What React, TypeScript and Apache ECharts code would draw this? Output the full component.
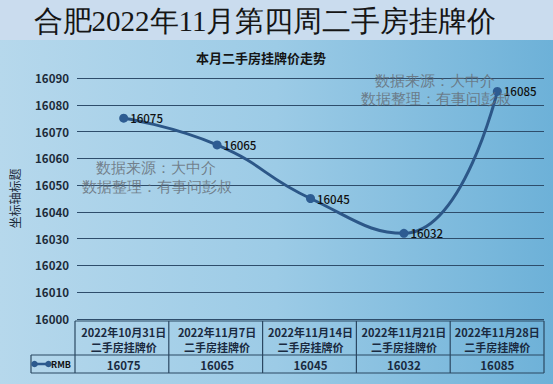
import React, { useEffect, useRef } from "react";
import * as echarts from "echarts";

const mainTitle = "合肥2022年11月第四周二手房挂牌价";
const chartTitle = "本月二手房挂牌价走势";
const categories = ["2022年10月31日", "2022年11月7日", "2022年11月14日", "2022年11月21日", "2022年11月28日"];
const rowLabel = "二手房挂牌价";
const seriesName = "RMB";
const values = [16075, 16065, 16045, 16032, 16085];
const yMin = 16000;
const yMax = 16090;
const yStep = 10;
const yAxisTitle = "坐标轴标题";
const watermark1 = "数据来源：大中介";
const watermark2 = "数据整理：有事问彭叔";

const SANS = "Noto Sans CJK SC";
const SERIF = "Liberation Serif";

export default function App() {
  const ref = useRef<HTMLDivElement>(null);
  useEffect(() => {
    if (!ref.current) return;
    const chart = echarts.init(ref.current, undefined, { renderer: "svg" });
    const gl = 75, gr = 544;
    const colW = (gr - gl) / categories.length;
    const tTop = 321, tMid = 355, tBot = 373, legL = 31;
    const border = "#2b4862";
    const tableEls: any[] = [];
    tableEls.push({ type: "line", shape: { x1: gl, y1: tTop, x2: gr, y2: tTop }, style: { stroke: border, lineWidth: 1.2 } });
    tableEls.push({ type: "line", shape: { x1: legL, y1: tMid, x2: gr, y2: tMid }, style: { stroke: border, lineWidth: 1.2 } });
    tableEls.push({ type: "line", shape: { x1: legL, y1: tBot, x2: gr, y2: tBot }, style: { stroke: border, lineWidth: 1.2 } });
    tableEls.push({ type: "line", shape: { x1: legL, y1: tMid, x2: legL, y2: tBot }, style: { stroke: border, lineWidth: 1.2 } });
    for (let i = 0; i <= categories.length; i++) {
      const x = gl + i * colW;
      tableEls.push({ type: "line", shape: { x1: x, y1: tTop, x2: x, y2: tBot }, style: { stroke: border, lineWidth: 1.2 } });
    }
    const ly = (tMid + tBot) / 2;
    tableEls.push({ type: "line", shape: { x1: 34, y1: ly, x2: 49, y2: ly }, style: { stroke: "#2c5a8e", lineWidth: 2.5 } });
    tableEls.push({ type: "circle", shape: { cx: 34.5, cy: ly, r: 3.3 }, style: { fill: "#2c5a8e" } });
    tableEls.push({ type: "circle", shape: { cx: 48.5, cy: ly, r: 3.3 }, style: { fill: "#2c5a8e" } });
    tableEls.push({
      type: "text", x: 51, y: ly,
      style: { text: seriesName, fontSize: 9, fontWeight: "bold", fill: "#111", fontFamily: SANS, textVerticalAlign: "middle" },
    });

    const wmStyle = (text: string) => ({
      text, fontSize: 14.5, fill: "rgba(100,106,114,0.8)", fontFamily: SERIF,
      textAlign: "center", textVerticalAlign: "middle",
    });
    const wm = [
      { type: "text", x: 156, y: 168, z: 50, style: wmStyle(watermark1) },
      { type: "text", x: 157, y: 187, z: 50, style: wmStyle(watermark2) },
      { type: "text", x: 435, y: 81, z: 50, style: wmStyle(watermark1) },
      { type: "text", x: 436, y: 99, z: 50, style: wmStyle(watermark2) },
    ];

    chart.setOption({
      animation: false,
      title: [
        {
          text: mainTitle, left: 265, textAlign: "center", top: 6, padding: 0,
          textStyle: { fontSize: 29, fontWeight: "normal", color: "#151515", fontFamily: SERIF },
        },
        {
          text: chartTitle, left: 261, textAlign: "center", top: 51, padding: 0,
          textStyle: { fontSize: 13, fontWeight: "bold", color: "#151515", fontFamily: SANS },
        },
      ],
      grid: { left: gl, right: 553 - gr, top: 78, bottom: 384 - 319, containLabel: false },
      xAxis: [
        {
          type: "category", data: categories, boundaryGap: true, position: "bottom",
          axisLine: { show: false }, axisTick: { show: false },
          axisLabel: {
            interval: 0, margin: 5, fontSize: 11, lineHeight: 15, color: "#1a2a40",
            fontWeight: "bold", fontFamily: SANS,
            formatter: (v: string) => `${v}\n${rowLabel}`,
          },
        },
        {
          type: "category", data: values.map(String), boundaryGap: true, position: "bottom", offset: 32,
          axisLine: { show: false }, axisTick: { show: false },
          axisLabel: { interval: 0, margin: 6, fontSize: 11.5, lineHeight: 15, color: "#1a2a40", fontWeight: "bold", fontFamily: SANS },
        },
      ],
      yAxis: {
        type: "value", min: yMin, max: yMax, interval: yStep,
        name: yAxisTitle, nameLocation: "middle", nameRotate: 90, nameGap: 57,
        nameTextStyle: { fontSize: 12, color: "#1d2b3a", fontFamily: SANS },
        axisLine: { show: false }, axisTick: { show: false },
        axisLabel: {
          margin: 8, fontSize: 11.5, color: "#1d2b3a", fontWeight: "bold", fontFamily: SANS,
          formatter: (v: number) => String(v),
        },
        splitLine: { lineStyle: { color: "#2e4d6b", width: 1.2 } },
      },
      series: [
        {
          name: seriesName, type: "line", data: values, smooth: 0.5,
          symbol: "circle", symbolSize: 9,
          itemStyle: { color: "#2d5c92" },
          lineStyle: { color: "#2c5788", width: 3 },
          label: {
            show: true, position: "right", distance: 2, fontSize: 11.5, color: "#111",
            fontFamily: SANS, fontWeight: 500,
          },
          z: 10,
        },
      ],
      graphic: [...tableEls, ...wm],
    });
    return () => chart.dispose();
  }, []);
  return (
    <div
      ref={ref}
      style={{
        position: "fixed", left: 0, top: 0, width: 553, height: 384,
        background:
          "linear-gradient(to bottom, #cadcee 0px, #cadcee 40px, transparent 40px), linear-gradient(to right, #b6d8ec, #9ccbe6 50%, #6db1d8)",
      }}
    />
  );
}
